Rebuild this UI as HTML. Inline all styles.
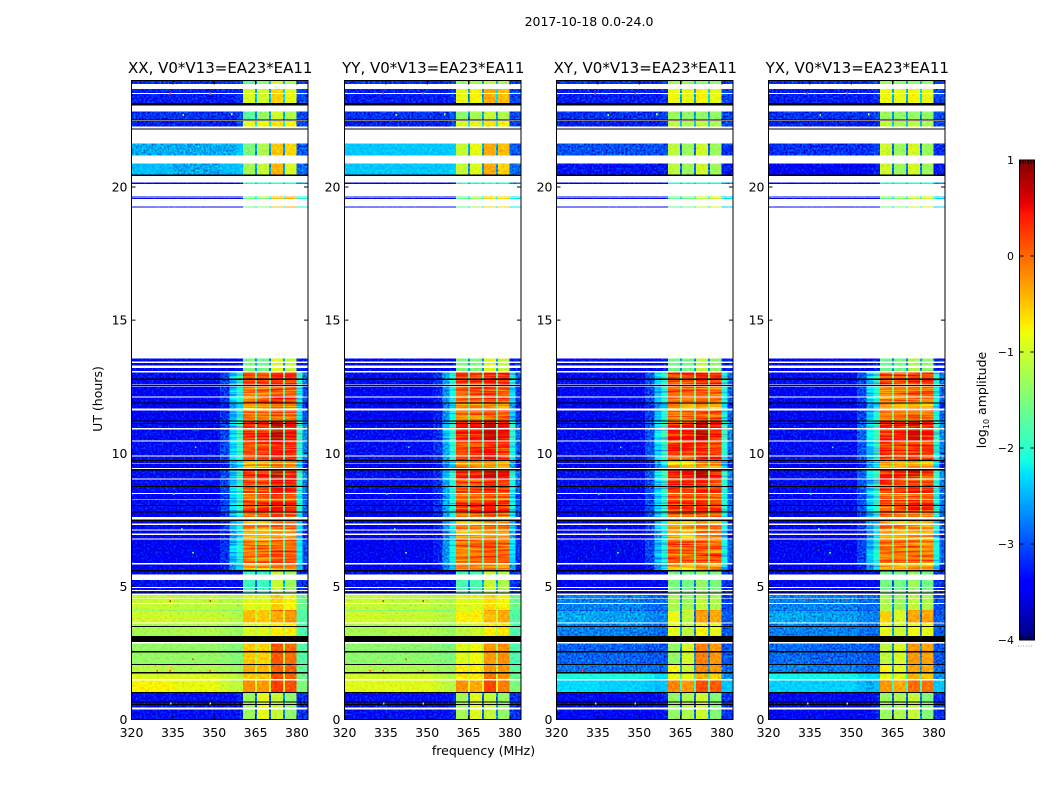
<!DOCTYPE html>
<html>
<head>
<meta charset="utf-8">
<title>2017-10-18 0.0-24.0</title>
<style>
html,body{margin:0;padding:0;background:#fff;width:1050px;height:800px;overflow:hidden}
svg{display:block}
text{font-family:"DejaVu Sans","Liberation Sans",sans-serif;fill:#000}
</style>
</head>
<body>
<svg id="chart" xmlns="http://www.w3.org/2000/svg" width="1050" height="800" viewBox="0 0 1050 800">
<defs>
<filter id="texQuiet" x="0" y="0" width="1" height="1" color-interpolation-filters="sRGB">
<feTurbulence type="fractalNoise" baseFrequency="0.5" numOctaves="2" seed="4" result="grain"/>
<feColorMatrix in="grain" type="matrix" values="0 0 0 0 0.5  1 0 0 0 -0.04  1 0 0 0 0  0 0 0 0 1" result="mono"/>
<feComposite in="SourceGraphic" in2="mono" operator="arithmetic" k1="0" k2="1" k3="1.0" k4="-0.5" result="noisy"/>
<feComposite in="noisy" in2="SourceAlpha" operator="in"/>
</filter>
<filter id="texSoft" x="0" y="0" width="1" height="1" color-interpolation-filters="sRGB">
<feTurbulence type="fractalNoise" baseFrequency="0.4" numOctaves="2" seed="7" result="grain"/>
<feColorMatrix in="grain" type="matrix" values="0 0 0 0 0.5  1 0 0 0 0  0 0 0 0 0.5  0 0 0 0 1" result="mono"/>
<feComposite in="SourceGraphic" in2="mono" operator="arithmetic" k1="0" k2="1" k3="0.45" k4="-0.225" result="noisy"/>
<feComposite in="noisy" in2="SourceAlpha" operator="in"/>
</filter>
<filter id="texBand" x="0" y="0" width="1" height="1" color-interpolation-filters="sRGB">
<feTurbulence type="fractalNoise" baseFrequency="0.02 0.6" numOctaves="2" seed="9" result="lines"/>
<feColorMatrix in="lines" type="matrix" values="0 0 0 0 0.5  1 0 0 0 0  0 0 0 0 0.5  0 0 0 0 1" result="mono"/>
<feComposite in="SourceGraphic" in2="mono" operator="arithmetic" k1="0" k2="1" k3="1.3" k4="-0.65" result="noisy"/>
<feComposite in="noisy" in2="SourceAlpha" operator="in"/>
</filter>
</defs>
<text x="589" y="26" font-size="12.5" text-anchor="middle">2017-10-18 0.0-24.0</text>
<text x="483.5" y="755" font-size="12.5" text-anchor="middle">frequency (MHz)</text>
<text x="0" y="0" font-size="12.5" text-anchor="middle" transform="translate(102 399) rotate(-90)">UT (hours)</text>
<text x="0" y="0" font-size="12.5" text-anchor="middle" transform="translate(986 400) rotate(-90)">log<tspan font-size="8" dy="3">10</tspan><tspan dy="-3"> amplitude</tspan></text>
</svg>
<script>
// ---------- data ----------
const polarizations = ['XX', 'YY', 'XY', 'YX'];
const baselineLabel = 'V0*V13=EA23*EA11';
const xTicks = [320, 335, 350, 365, 380];
const yTicks = [0, 5, 10, 15, 20];
const colorTicks = [1, 0, -1, -2, -3, -4];
// frequency channel-group edges (MHz)
const freqEdges = [320, 335, 352, 355.5, 358, 360.4, 364.7, 365.5, 369.8, 370.6, 374.9, 375.6, 379.9, 384];
// time blocks (UT hours) and the spectrum each block shows; FLAG = flagged (black)
const rowStart = [0,.46,.54,.58,.63,.67,.99,1.04,1.53,1.73,1.78,2.06,2.09,2.51,2.57,2.91,3.13,3.47,3.51,3.65,4.08,4.12,4.38,4.57,4.73,4.77,4.86,4.97,5.21,5.45,5.55,5.61,5.88,6.80,6.99,7.14,7.36,7.45,7.61,7.77,7.81,8.01,8.05,8.27,8.51,8.73,8.77,9.05,9.35,9.44,9.63,9.70,9.75,9.91,10.48,10.94,11.11,11.14,11.20,11.23,11.68,11.88,11.91,12.14,12.53,12.59,12.76,12.81,13.09,13.30,13.45,19.23,19.54,19.60,20.12,20.42,20.47,21.18,22.17,22.27,22.49,22.54,23.07,23.15,23.53,23.86];
const rowEnd = [.38,.54,.58,.63,.67,.99,1.04,1.47,1.73,1.78,2.06,2.09,2.51,2.57,2.86,3.13,3.47,3.51,3.61,4.08,4.12,4.34,4.55,4.67,4.77,4.82,4.93,5.20,5.24,5.55,5.61,5.83,6.76,6.93,7.10,7.31,7.45,7.51,7.77,7.81,8.01,8.05,8.24,8.47,8.73,8.77,9.01,9.35,9.40,9.61,9.70,9.75,9.88,10.44,10.90,11.11,11.14,11.20,11.23,11.61,11.88,11.91,12.10,12.51,12.56,12.76,12.81,13.04,13.21,13.39,13.56,19.27,19.58,19.64,20.17,20.47,20.88,21.64,22.20,22.47,22.53,22.84,23.15,23.49,23.69,24];
const rowKind = ['Q0','Q0','FLAG','Q0','FLAG','Q0','FLAG','DO','DP','FLAG','DQ','FLAG','DG','FLAG','DG','FLAG','DB','FLAG','DB','DY','DG','DA','DA','DA','FLAG','Q1','Q1','Q1','Q1','Q1','FLAG','ND','NC','ND','ND','NC','ND','FLAG','NC','FLAG','NB','FLAG','NB','NC','NB','FLAG','NB','NA','FLAG','ND','ND','FLAG','NB','NB','NA','NA','FLAG','NA','FLAG','NC','ND','FLAG','NC','NC','FLAG','NB','FLAG','NB','Q2','Q2','Q2','TL','TL','TL','TM','FLAG','TD','TC','FLAG','TO','FLAG','TB','FLAG','TA','TA','TB'];
// log10 amplitude per frequency group, one spectrum per kind
const spectraXX = {
 Q0:[-3.3,-3.3,-3.3,-3.3,-3.2,-1.3,-2.9,-0.85,-2.9,-1.05,-2.7,-1.4,-3.1],
 Q1:[-3.3,-3.3,-3.3,-3.3,-3.3,-1.9,-2.8,-1.9,-2.5,-1.05,-2.5,-1.3,-3.1],
 Q2:[-3.4,-3.4,-3.4,-3.4,-3.3,-1.5,-2.6,-1.6,-2.6,-0.9,-2.6,-1.1,-3.2],
 NA:[-3.3,-3.3,-3.0,-2.3,-1.85,0.32,-1.7,0.45,-1.7,0.72,-1.7,0.5,-1.9],
 NB:[-3.3,-3.3,-3.0,-2.35,-1.95,0.15,-1.7,0.2,-1.7,0.38,-1.7,0.28,-2.0],
 NC:[-3.4,-3.4,-3.1,-2.45,-2.05,-0.08,-1.7,-0.04,-1.7,0.12,-1.7,0.05,-2.2],
 ND:[-3.4,-3.4,-3.2,-2.6,-2.3,-0.35,-1.7,-0.3,-1.7,-0.15,-1.7,-0.25,-2.4],
 DO:[-0.75,-0.85,-1.0,-1.1,-1.1,-0.2,-1.0,-0.25,-1.0,0.25,-1.0,0.15,-1.5],
 DP:[-0.95,-0.95,-1.05,-1.1,-1.2,-0.5,-1.1,-0.5,-1.1,0.15,-1.1,0.05,-1.6],
 DQ:[-1.15,-1.2,-1.25,-1.3,-1.3,-0.35,-1.1,-0.4,-1.1,0.05,-1.2,0.05,-1.7],
 DG:[-1.35,-1.35,-1.4,-1.45,-1.5,-0.5,-1.2,-0.55,-1.2,0.1,-1.3,-0.02,-1.75],
 DB:[-1.25,-1.2,-1.25,-1.3,-1.35,-0.95,-1.15,-0.9,-1.2,-0.7,-1.2,-0.7,-1.8],
 DY:[-1.0,-1.05,-1.1,-1.15,-1.2,-0.45,-0.95,-0.5,-1.1,-0.35,-1.0,-0.25,-1.75],
 DA:[-1.05,-1.1,-1.15,-1.15,-1.2,-0.9,-1.0,-0.9,-1.0,-0.55,-1.0,-0.75,-1.6],
 TL:[-3.55,-3.55,-3.55,-3.5,-3.4,-1.6,-2.3,-1.4,-2.2,-0.5,-2.2,-0.35,-2.1],
 TM:[-3.6,-3.6,-3.6,-3.6,-3.4,-1.9,-2.4,-2.1,-2.4,-1.9,-2.4,-2.1,-2.7],
 TD:[-2.45,-2.5,-2.45,-2.45,-2.4,-1.25,-2.6,-1.05,-2.6,-0.4,-2.6,-0.95,-2.8],
 TC:[-2.5,-2.5,-2.5,-2.5,-2.4,-1.5,-2.6,-1.2,-2.6,-0.5,-2.6,-0.6,-2.9],
 TO:[-3.2,-3.2,-3.2,-3.2,-3.0,-0.85,-2.2,-0.8,-2.2,-0.65,-2.2,-0.75,-3.0],
 TA:[-3.2,-3.2,-3.2,-3.2,-3.1,-0.95,-2.5,-1.0,-2.5,-0.55,-2.3,-0.85,-3.0],
 TB:[-3.1,-3.1,-3.1,-3.1,-3.0,-1.7,-2.7,-1.35,-2.5,-1.0,-2.5,-1.2,-3.0]
};
const spectraYY = {
 Q0:[-3.3,-3.3,-3.3,-3.3,-3.2,-1.25,-2.9,-0.9,-2.9,-1.05,-2.7,-1.35,-3.1],
 Q1:[-3.3,-3.3,-3.3,-3.3,-3.3,-1.8,-2.8,-1.8,-2.5,-1.05,-2.5,-1.2,-3.1],
 Q2:[-3.4,-3.4,-3.4,-3.4,-3.3,-1.5,-2.6,-1.5,-2.6,-0.9,-2.6,-1.1,-3.2],
 NA:[-3.3,-3.3,-3.1,-2.45,-1.95,0.4,-1.7,0.45,-1.7,0.68,-1.7,0.52,-2.0],
 NB:[-3.3,-3.3,-3.1,-2.5,-2.05,0.22,-1.7,0.26,-1.7,0.4,-1.7,0.28,-2.1],
 NC:[-3.4,-3.4,-3.2,-2.6,-2.15,-0.03,-1.7,0.02,-1.7,0.12,-1.7,0.05,-2.3],
 ND:[-3.4,-3.4,-3.3,-2.75,-2.4,-0.3,-1.7,-0.25,-1.7,-0.15,-1.7,-0.25,-2.5],
 DO:[-0.9,-0.9,-1.0,-1.1,-1.15,-0.2,-1.0,-0.35,-1.0,0.2,-1.0,-0.1,-1.5],
 DP:[-1.0,-1.0,-1.1,-1.15,-1.25,-0.7,-1.1,-0.7,-1.1,-0.05,-1.1,-0.2,-1.6],
 DQ:[-1.2,-1.2,-1.3,-1.3,-1.35,-0.7,-1.1,-0.7,-1.1,-0.25,-1.2,-0.25,-1.7],
 DG:[-1.4,-1.4,-1.45,-1.5,-1.5,-0.9,-1.2,-0.8,-1.2,-0.25,-1.3,-0.2,-1.8],
 DB:[-1.25,-1.2,-1.25,-1.3,-1.35,-1.1,-1.15,-1.0,-1.2,-0.7,-1.2,-0.65,-1.8],
 DY:[-1.0,-1.05,-1.1,-1.15,-1.2,-0.7,-0.95,-0.7,-1.1,-0.45,-1.0,-0.35,-1.75],
 DA:[-1.05,-1.1,-1.15,-1.15,-1.2,-0.9,-1.0,-0.9,-1.0,-0.6,-1.0,-0.75,-1.6],
 TL:[-3.55,-3.55,-3.55,-3.5,-3.4,-1.6,-2.3,-1.3,-2.2,-0.6,-2.2,-0.6,-2.2],
 TM:[-3.6,-3.6,-3.6,-3.6,-3.4,-1.9,-2.4,-2.1,-2.4,-1.9,-2.4,-2.1,-2.7],
 TD:[-2.4,-2.4,-2.4,-2.4,-2.35,-1.05,-2.6,-0.9,-2.6,-0.35,-2.6,-0.55,-2.8],
 TC:[-2.4,-2.4,-2.4,-2.4,-2.35,-1.05,-2.6,-0.85,-2.6,-0.35,-2.6,-0.45,-2.9],
 TO:[-3.2,-3.2,-3.2,-3.2,-3.0,-0.9,-2.2,-0.85,-2.2,-0.65,-2.2,-0.75,-3.0],
 TA:[-3.2,-3.2,-3.2,-3.2,-3.1,-0.85,-2.5,-0.75,-2.5,-0.35,-2.3,-0.45,-3.0],
 TB:[-3.1,-3.1,-3.1,-3.1,-2.9,-1.4,-2.7,-1.25,-2.5,-1.05,-2.5,-1.2,-3.0]
};
const spectraXY = {
 Q0:[-3.35,-3.35,-3.35,-3.3,-3.2,-1.35,-2.9,-1.2,-2.9,-1.0,-2.7,-1.45,-3.1],
 Q1:[-3.35,-3.35,-3.35,-3.3,-3.3,-1.5,-2.8,-1.55,-2.6,-1.35,-2.6,-1.5,-3.1],
 Q2:[-3.4,-3.4,-3.4,-3.35,-3.2,-1.55,-2.6,-1.55,-2.6,-1.1,-2.6,-1.4,-3.2],
 NA:[-3.3,-3.3,-2.9,-2.2,-1.85,0.4,-1.5,0.45,-1.5,0.72,-1.5,0.45,-1.9],
 NB:[-3.3,-3.3,-2.95,-2.3,-1.95,0.22,-1.5,0.25,-1.5,0.38,-1.5,0.25,-2.0],
 NC:[-3.35,-3.35,-3.0,-2.45,-2.05,0.02,-1.5,0.05,-1.5,0.12,-1.5,0.05,-2.1],
 ND:[-3.4,-3.4,-3.2,-2.6,-2.3,-0.3,-1.5,-0.55,-1.5,-0.15,-1.5,-0.25,-2.4],
 DO:[-2.3,-2.35,-2.4,-2.45,-2.4,-0.15,-1.9,-0.25,-1.9,0.15,-1.9,0.08,-2.4],
 DP:[-2.1,-2.1,-2.2,-2.3,-2.3,-0.8,-2.0,-0.85,-2.0,-0.4,-2.0,-0.55,-2.6],
 DQ:[-2.75,-2.8,-2.8,-2.85,-2.8,-0.75,-2.5,-1.0,-2.5,-0.15,-2.5,-0.25,-2.8],
 DG:[-2.85,-2.85,-2.9,-2.9,-2.9,-1.35,-2.6,-0.95,-2.6,-0.12,-2.6,-0.25,-2.9],
 DB:[-2.7,-2.7,-2.75,-2.8,-2.8,-0.85,-2.6,-1.1,-2.6,-0.75,-2.6,-0.85,-2.9],
 DY:[-2.5,-2.55,-2.65,-2.7,-2.7,-0.8,-2.7,-1.1,-2.8,-0.3,-2.8,-0.35,-2.9],
 DA:[-2.7,-2.7,-2.8,-2.8,-2.8,-1.2,-2.7,-1.3,-2.7,-1.1,-2.7,-1.2,-3.0],
 TL:[-3.55,-3.55,-3.55,-3.5,-3.4,-1.6,-2.3,-1.5,-2.2,-1.05,-2.2,-1.0,-2.3],
 TM:[-3.6,-3.6,-3.6,-3.6,-3.4,-2.0,-2.4,-2.1,-2.4,-2.0,-2.4,-2.1,-2.7],
 TD:[-3.25,-3.25,-3.25,-3.25,-3.2,-1.1,-2.8,-1.3,-2.8,-1.0,-2.8,-1.3,-3.2],
 TC:[-2.95,-2.95,-2.95,-2.95,-2.95,-1.1,-2.8,-1.3,-2.8,-1.0,-2.8,-1.3,-3.1],
 TO:[-3.2,-3.2,-3.2,-3.2,-3.1,-1.05,-2.4,-1.2,-2.4,-1.05,-2.4,-1.2,-3.0],
 TA:[-3.2,-3.2,-3.2,-3.2,-3.1,-0.8,-2.5,-0.85,-2.5,-0.75,-2.3,-0.85,-3.0],
 TB:[-3.1,-3.1,-3.1,-3.1,-3.0,-1.3,-2.7,-1.35,-2.5,-1.35,-2.5,-1.35,-3.0]
};
const spectraYX = {
 Q0:[-3.35,-3.35,-3.35,-3.3,-3.2,-1.3,-2.9,-1.2,-2.9,-1.05,-2.7,-1.45,-3.1],
 Q1:[-3.35,-3.35,-3.35,-3.3,-3.3,-1.55,-2.8,-1.55,-2.6,-1.3,-2.6,-1.55,-3.1],
 Q2:[-3.4,-3.4,-3.4,-3.35,-3.2,-1.6,-2.6,-1.55,-2.6,-1.2,-2.6,-1.4,-3.2],
 NA:[-3.3,-3.3,-2.85,-2.2,-1.9,0.38,-1.5,0.45,-1.5,0.62,-1.5,0.4,-1.9],
 NB:[-3.3,-3.3,-2.95,-2.3,-1.95,0.18,-1.5,0.18,-1.5,0.3,-1.5,0.2,-2.0],
 NC:[-3.35,-3.35,-3.0,-2.45,-2.05,-0.08,-1.5,-0.05,-1.5,0.02,-1.5,-0.05,-2.1],
 ND:[-3.4,-3.4,-3.2,-2.6,-2.3,-0.35,-1.5,-0.4,-1.5,-0.25,-1.5,-0.35,-2.4],
 DO:[-2.35,-2.35,-2.45,-2.5,-2.45,-0.25,-1.9,-0.35,-1.9,-0.02,-1.9,-0.05,-2.4],
 DP:[-2.15,-2.15,-2.25,-2.3,-2.3,-0.85,-2.0,-0.85,-2.0,-0.4,-2.0,-0.5,-2.6],
 DQ:[-2.7,-2.75,-2.8,-2.85,-2.8,-0.75,-2.5,-0.85,-2.5,-0.3,-2.5,-0.35,-2.8],
 DG:[-2.8,-2.85,-2.85,-2.9,-2.9,-1.1,-2.6,-0.95,-2.6,-0.25,-2.6,-0.3,-2.9],
 DB:[-2.7,-2.7,-2.75,-2.8,-2.8,-0.85,-2.6,-1.0,-2.6,-0.8,-2.6,-0.85,-2.9],
 DY:[-2.5,-2.55,-2.65,-2.7,-2.7,-0.55,-2.7,-0.95,-2.8,-0.35,-2.8,-0.3,-2.9],
 DA:[-2.7,-2.7,-2.8,-2.8,-2.8,-1.2,-2.7,-1.3,-2.7,-1.1,-2.7,-1.2,-3.0],
 TL:[-3.55,-3.55,-3.55,-3.5,-3.4,-1.5,-2.3,-1.4,-2.2,-1.05,-2.2,-1.0,-2.3],
 TM:[-3.6,-3.6,-3.6,-3.6,-3.4,-2.0,-2.4,-2.1,-2.4,-2.0,-2.4,-2.1,-2.7],
 TD:[-3.35,-3.35,-3.35,-3.3,-3.2,-1.0,-2.8,-1.3,-2.8,-0.95,-2.8,-1.3,-3.2],
 TC:[-3.1,-3.1,-3.1,-3.1,-3.0,-1.0,-2.8,-1.3,-2.8,-0.95,-2.8,-1.3,-3.1],
 TO:[-3.2,-3.2,-3.2,-3.2,-3.1,-1.05,-2.4,-1.2,-2.4,-1.05,-2.4,-1.2,-3.0],
 TA:[-3.2,-3.2,-3.2,-3.2,-3.1,-0.8,-2.5,-0.85,-2.5,-0.75,-2.3,-0.85,-3.0],
 TB:[-3.1,-3.1,-3.1,-3.1,-3.0,-1.3,-2.7,-1.35,-2.5,-1.35,-2.5,-1.35,-3.0]
};
const spectra = [spectraXX, spectraYY, spectraXY, spectraYX];
// isolated interference spikes: UT, frequency, log10 amplitude
const rfiUT = [4.48, 4.48, 1.86, 1.86, 1.86, 2.3, 0.63, 0.63, 23.54, 23.54, 22.75, 22.75, 22.72, 22.78, 10.26, 8.5, 7.2, 6.3];
const rfiFreq = [333.8, 348.3, 329, 333.8, 348.3, 342, 334, 348.3, 333.8, 348.3, 338.5, 356, 338.5, 356, 343, 335, 338, 342];
const rfiValue = [0.3, 0.3, 0.2, 0.3, 0.2, 0.1, -1.3, -1.0, 0.1, 0.0, -1.0, -0.7, -1.5, -1.2, -2.0, -1.9, -1.8, -1.9];
// night-time spectra fall off toward the upper band edge (MHz, log10 step)
const edgeSplitFreq = 382;
const edgeSplitDrop = -0.75;

// ---------- scales ----------
const panelLeft = [131.5, 344.5, 556.5, 768.5];
const panelWidth = 176.5;
const plotTop = 80.5, plotBottom = 719.5;
const utMax = 24, fMin = 320, fMax = 384;
const yScale = u => plotBottom - (u / utMax) * (plotBottom - plotTop);
const xScale = (f, p) => panelLeft[p] + (f - fMin) / (fMax - fMin) * panelWidth;
const cbTop = 160, cbBottom = 640, cbLeft = 1019.5, cbRight = 1034.5, cMin = -4, cMax = 1;
const cbScale = v => cbBottom - (v - cMin) / (cMax - cMin) * (cbBottom - cbTop);
function interp(stops, t) {
  for (let i = 1; i < stops.length; i++) {
    if (t <= stops[i][0]) {
      const a = stops[i - 1], b = stops[i];
      return a[1] + (b[1] - a[1]) * (t - a[0]) / (b[0] - a[0]);
    }
  }
  return stops[stops.length - 1][1];
}
const jetR = [[0,0],[.35,0],[.66,1],[.89,1],[1,.5]];
const jetG = [[0,0],[.125,0],[.375,1],[.64,1],[.91,0],[1,0]];
const jetB = [[0,.5],[.11,1],[.34,1],[.65,0],[1,0]];
function color(v) {
  const t = Math.max(0, Math.min(1, (v - cMin) / (cMax - cMin)));
  const c = s => Math.round(255 * interp(s, t));
  return 'rgb(' + c(jetR) + ',' + c(jetG) + ',' + c(jetB) + ')';
}

// ---------- drawing ----------
const NS = 'http://www.w3.org/2000/svg';
const svg = document.getElementById('chart');
function shape(parent, tag, props) {
  const el = document.createElementNS(NS, tag);
  for (const k in props) el.setAttribute(k, props[k]);
  parent.appendChild(el);
  return el;
}
function label(parent, x, y, str, size, anchor) {
  const el = shape(parent, 'text', {x: x, y: y, 'font-size': size, 'text-anchor': anchor});
  el.textContent = str;
  return el;
}
polarizations.forEach((pol, p) => {
  const panel = shape(svg, 'g', {});
  
  
  const heatQuiet = shape(panel, 'g', {filter: 'url(#texQuiet)', 'shape-rendering': 'crispEdges'});
  
  
  const heatSoft = shape(panel, 'g', {filter: 'url(#texSoft)', 'shape-rendering': 'crispEdges'});
  
  
  const heatBand = shape(panel, 'g', {filter: 'url(#texBand)', 'shape-rendering': 'crispEdges'});
  
  
  const flags = shape(panel, 'g', {'shape-rendering': 'crispEdges'});
  
  
  rowKind.forEach((kind, r) => {
    const y0 = yScale(rowEnd[r]), y1 = yScale(rowStart[r]);
    const h = Math.max(y1 - y0, 1);
    if (kind === 'FLAG') {
      const bar = shape(flags, 'rect', {x: panelLeft[p], y: y0, width: panelWidth, height: h, fill: '#000'});
      
      
      return;
    }
    const night = kind[0] === 'N';
    const layerFor = v => v < -2.45 ? heatQuiet : (night ? heatBand : heatSoft);
    spectra[p][kind].forEach((v, c) => {
      const last = c === freqEdges.length - 2;
      const fEnd = (last && night) ? edgeSplitFreq : freqEdges[c + 1];
      const x0 = xScale(freqEdges[c], p), x1 = xScale(fEnd, p);
      const cell = shape(layerFor(v), 'rect', {x: x0, y: y0, width: x1 - x0, height: h, fill: color(v)});
      
      
      if (last && night) {
        const v2 = v + edgeSplitDrop;
        const xEnd = xScale(freqEdges[c + 1], p);
        const outer = shape(layerFor(v2), 'rect', {x: x1, y: y0, width: xEnd - x1, height: h, fill: color(v2)});
        
        
      }
    });
  });
  rfiValue.forEach((v, i) => {
    const spot = shape(panel, 'rect', {x: xScale(rfiFreq[i], p), y: yScale(rfiUT[i]), width: 1.6, height: 1.6, fill: color(v), 'shape-rendering': 'crispEdges'});
    
    
  });
  const frame = shape(panel, 'rect', {x: panelLeft[p], y: plotTop, width: panelWidth, height: plotBottom - plotTop, fill: 'none', stroke: '#000', 'stroke-width': 1});
  
  
  xTicks.forEach(t => {
    const x = xScale(t, p);
    const tb = shape(panel, 'path', {d: 'M' + x + ' ' + plotBottom + 'v-4M' + x + ' ' + plotTop + 'v4', stroke: '#000', 'stroke-width': 1, fill: 'none'});
    
    
    const tl = label(panel, x, 737, String(t), 12.5, 'middle');
    
    
  });
  yTicks.forEach(t => {
    const y = yScale(t);
    const right = panelLeft[p] + panelWidth;
    const tb = shape(panel, 'path', {d: 'M' + panelLeft[p] + ' ' + y + 'h4M' + right + ' ' + y + 'h-4', stroke: '#000', 'stroke-width': 1, fill: 'none'});
    
    
    const tl = label(panel, panelLeft[p] - 4, y + 4.5, String(t), 12.5, 'end');
    
    
  });
  const title = label(panel, panelLeft[p] + panelWidth / 2 + 0.5, 73, pol + ', ' + baselineLabel, 15, 'middle');
  
  
});

// colorbar
const cb = shape(svg, 'g', {});


const cbRamp = shape(cb, 'g', {'shape-rendering': 'crispEdges'});


for (let i = 0; i < 256; i++) {
  const v0 = cMin + (cMax - cMin) * i / 256, v1 = cMin + (cMax - cMin) * (i + 1) / 256;
  const s = shape(cbRamp, 'rect', {x: cbLeft, y: cbScale(v1), width: cbRight - cbLeft, height: cbScale(v0) - cbScale(v1) + 0.5, fill: color((v0 + v1) / 2)});
  
  
}
const cbFrame = shape(cb, 'rect', {x: cbLeft, y: cbTop, width: cbRight - cbLeft, height: cbBottom - cbTop, fill: 'none', stroke: '#000', 'stroke-width': 1});


colorTicks.forEach(t => {
  const y = cbScale(t);
  const tk = shape(cb, 'path', {d: 'M' + cbLeft + ' ' + y + 'h4M' + cbRight + ' ' + y + 'h-4', stroke: '#000', 'stroke-width': 1, fill: 'none'});
  
  
  const tl = label(cb, 1014, y + 4, String(t).replace('-', '\u2212'), 11, 'end');
  
  
});
for (let i = 0; i < 6; i++) {
  const x = cbLeft + 1 + i * 2.6;
  const tk = shape(cb, 'path', {d: 'M' + x + ' ' + cbBottom + 'v-4M' + x + ' ' + cbTop + 'v4', stroke: '#000', 'stroke-width': 0.8, fill: 'none'});
  
  
  const dot = shape(cb, 'rect', {x: x - 2.5, y: 645.5, width: 1, height: 1, fill: '#999'});
  
  
}
</script>
</body>
</html>
